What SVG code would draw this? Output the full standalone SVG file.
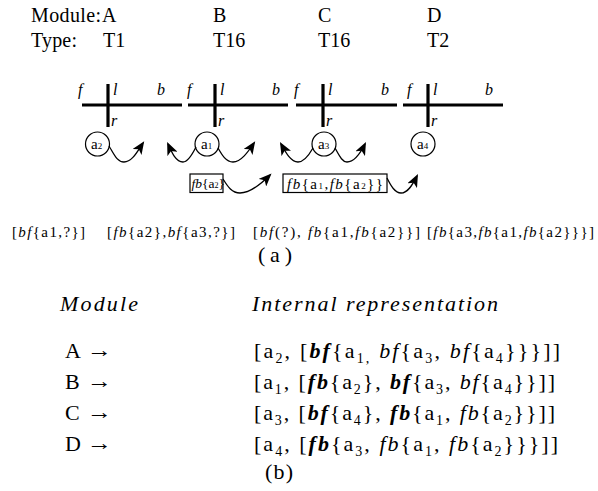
<svg xmlns="http://www.w3.org/2000/svg" width="598" height="491" viewBox="0 0 598 491" font-family="'Liberation Serif', 'Times New Roman', 'DejaVu Serif', serif">
<style>
text{font-family:"Liberation Serif","Times New Roman","DejaVu Serif",serif;fill:#000}
.hd{font-size:20px}
.lb{font-size:16px;font-style:italic}
.ci{font-size:15px}
.sm{font-size:9px}
.bx{font-size:15px}
.ra{font-size:15px}
.cap{font-size:22px}
.tb{font-size:22px}
.it{font-style:italic}
.bi{font-style:italic;font-weight:bold}
.bar{stroke:#000;stroke-width:3.2;fill:none}
.node circle{fill:#fff;stroke:#000;stroke-width:1.2}
.box rect{fill:#fff;stroke:#000;stroke-width:1.2}
.wave{fill:none;stroke:#000;stroke-width:1.3;marker-end:url(#ah)}
</style>
<defs>
<marker id="ah" viewBox="0 0 12 10" refX="10" refY="5" markerWidth="13" markerHeight="11" markerUnits="userSpaceOnUse" orient="auto">
<path d="M0,0 L12,5 L0,10 L3,5 Z" fill="#000"/>
</marker>
</defs>

<g id="header">
<text class="hd" x="31" y="22" textLength="70" lengthAdjust="spacing">Module:</text>
<text class="hd" x="31" y="47" textLength="46" lengthAdjust="spacing">Type:</text>
</g>

<g id="A" class="node">
<text class="hd" x="102" y="22">A</text>
<text class="hd" x="103" y="47">T1</text>
<path class="bar" d="M82,105 H182 M108,84 V127"/>
<text class="lb" x="78" y="95">f</text>
<text class="lb" x="113" y="95">l</text>
<text class="lb" x="157" y="95">b</text>
<text class="lb" x="111" y="126">r</text>
<circle cx="97.5" cy="144" r="12"/>
<text class="ci" x="91" y="149">a<tspan class="sm">2</tspan></text>
</g>

<g id="B" class="node">
<text class="hd" x="213" y="22">B</text>
<text class="hd" x="213" y="47">T16</text>
<path class="bar" d="M188,105 H288 M215,84 V127"/>
<text class="lb" x="187" y="95">f</text>
<text class="lb" x="220" y="95">l</text>
<text class="lb" x="272" y="95">b</text>
<text class="lb" x="218" y="126">r</text>
<circle cx="207" cy="144" r="12"/>
<text class="ci" x="201" y="149">a<tspan class="sm">1</tspan></text>
</g>

<g id="C" class="node">
<text class="hd" x="318" y="22">C</text>
<text class="hd" x="318" y="47">T16</text>
<path class="bar" d="M296,105 H397 M323,84 V127"/>
<text class="lb" x="294" y="95">f</text>
<text class="lb" x="328" y="95">l</text>
<text class="lb" x="381" y="95">b</text>
<text class="lb" x="326" y="126">r</text>
<circle cx="324" cy="144" r="12"/>
<text class="ci" x="318" y="149">a<tspan class="sm">3</tspan></text>
</g>

<g id="D" class="node">
<text class="hd" x="427" y="22">D</text>
<text class="hd" x="427" y="47">T2</text>
<path class="bar" d="M403,105 H503 M428,84 V127"/>
<text class="lb" x="407" y="95">f</text>
<text class="lb" x="433" y="95">l</text>
<text class="lb" x="485" y="95">b</text>
<text class="lb" x="431" y="126">r</text>
<circle cx="423" cy="144" r="12"/>
<text class="ci" x="417" y="149">a<tspan class="sm">4</tspan></text>
</g>

<g id="box1" class="box">
<rect x="190" y="174" width="33" height="18.5"/>
<text x="191.5" y="188" font-size="13.5px"><tspan class="it">fb</tspan>{a<tspan font-size="8px">2</tspan>}</text>
</g>

<g id="box2" class="box">
<rect x="283" y="174" width="104" height="18.5"/>
<text class="bx" x="287" y="188.5" textLength="96" lengthAdjust="spacing"><tspan class="it">fb</tspan>{a<tspan class="sm">1</tspan>,<tspan class="it">fb</tspan>{a<tspan class="sm">2</tspan>}}</text>
</g>

<g id="connectors">
<path class="wave" d="M109,146 C114,154 117,162 124,162 C132,162 137,152 143,143"/>
<path class="wave" d="M196,147 C192,155 188,162 183,162 C176,162 172,153 168,144"/>
<path class="wave" d="M218,148 C222,155 226,162 233,162 C241,162 248,152 254,143"/>
<path class="wave" d="M313,148 C309,155 304,162 298,162 C291,162 286,153 281,144"/>
<path class="wave" d="M335,148 C339,155 342,162 347,162 C355,162 361,152 365,144"/>
<path class="wave" d="M223,179 C228,187 232,193 240,193 C250,193 261,184 270,175"/>
<path class="wave" d="M387,178 C391,186 395,193 401,193 C408,193 413,184 417,176"/>
</g>

<g id="results">
<text class="ra" x="12" y="237" textLength="73" lengthAdjust="spacing">[<tspan class="it">bf</tspan>{a1,?}]</text>
<text class="ra" x="107" y="237" textLength="128" lengthAdjust="spacing">[<tspan class="it">fb</tspan>{a2},<tspan class="it">bf</tspan>{a3,?}]</text>
<text class="ra" x="253" y="237" textLength="167" lengthAdjust="spacing">[<tspan class="it">bf</tspan>(?), <tspan class="it">fb</tspan>{a1,<tspan class="it">fb</tspan>{a2}}]</text>
<text class="ra" x="427" y="237" textLength="167" lengthAdjust="spacing">[<tspan class="it">fb</tspan>{a3,<tspan class="it">fb</tspan>{a1,<tspan class="it">fb</tspan>{a2}}}]</text>
<text class="cap" x="258" y="262" textLength="34" lengthAdjust="spacing">(a)</text>
</g>

<g id="table">
<text class="tb it" x="60" y="311" textLength="78" lengthAdjust="spacing">Module</text>
<text class="tb it" x="252" y="311" textLength="246" lengthAdjust="spacing">Internal representation</text>
<text class="tb" x="65" y="358">A</text>
<text class="tb" x="87" y="357" textLength="25" lengthAdjust="spacingAndGlyphs">→</text>
<text class="tb" x="65" y="389">B</text>
<text class="tb" x="87" y="388" textLength="25" lengthAdjust="spacingAndGlyphs">→</text>
<text class="tb" x="65" y="420">C</text>
<text class="tb" x="87" y="419" textLength="25" lengthAdjust="spacingAndGlyphs">→</text>
<text class="tb" x="65" y="451">D</text>
<text class="tb" x="87" y="450" textLength="25" lengthAdjust="spacingAndGlyphs">→</text>
<text class="tb" x="254" y="358" textLength="306" lengthAdjust="spacing">[a<tspan font-size="14" dy="5">2</tspan><tspan dy="-5">, [</tspan><tspan class="bi">bf</tspan>{a<tspan font-size="14" dy="5">1,</tspan><tspan dy="-5"> </tspan><tspan class="it">bf</tspan>{a<tspan font-size="14" dy="5">3</tspan><tspan dy="-5">,  </tspan><tspan class="it">bf</tspan>{a<tspan font-size="14" dy="5">4</tspan><tspan dy="-5">}}}]]</tspan></text>
<text class="tb" x="254" y="389" textLength="301" lengthAdjust="spacing">[a<tspan font-size="14" dy="5">1</tspan><tspan dy="-5">, [</tspan><tspan class="bi">fb</tspan>{a<tspan font-size="14" dy="5">2</tspan><tspan dy="-5">}, </tspan><tspan class="bi">bf</tspan>{a<tspan font-size="14" dy="5">3</tspan><tspan dy="-5">, </tspan><tspan class="it">bf</tspan>{a<tspan font-size="14" dy="5">4</tspan><tspan dy="-5">}}]]</tspan></text>
<text class="tb" x="254" y="420" textLength="301" lengthAdjust="spacing">[a<tspan font-size="14" dy="5">3</tspan><tspan dy="-5">, [</tspan><tspan class="bi">bf</tspan>{a<tspan font-size="14" dy="5">4</tspan><tspan dy="-5">}, </tspan><tspan class="bi">fb</tspan>{a<tspan font-size="14" dy="5">1</tspan><tspan dy="-5">, </tspan><tspan class="it">fb</tspan>{a<tspan font-size="14" dy="5">2</tspan><tspan dy="-5">}}]]</tspan></text>
<text class="tb" x="254" y="451" textLength="304" lengthAdjust="spacing">[a<tspan font-size="14" dy="5">4</tspan><tspan dy="-5">, [</tspan><tspan class="bi">fb</tspan>{a<tspan font-size="14" dy="5">3</tspan><tspan dy="-5">,  </tspan><tspan class="it">fb</tspan>{a<tspan font-size="14" dy="5">1</tspan><tspan dy="-5">, </tspan><tspan class="it">fb</tspan>{a<tspan font-size="14" dy="5">2</tspan><tspan dy="-5">}}}]]</tspan></text>
<text class="tb" x="265" y="479" textLength="28" lengthAdjust="spacing">(b)</text>
</g>
</svg>
